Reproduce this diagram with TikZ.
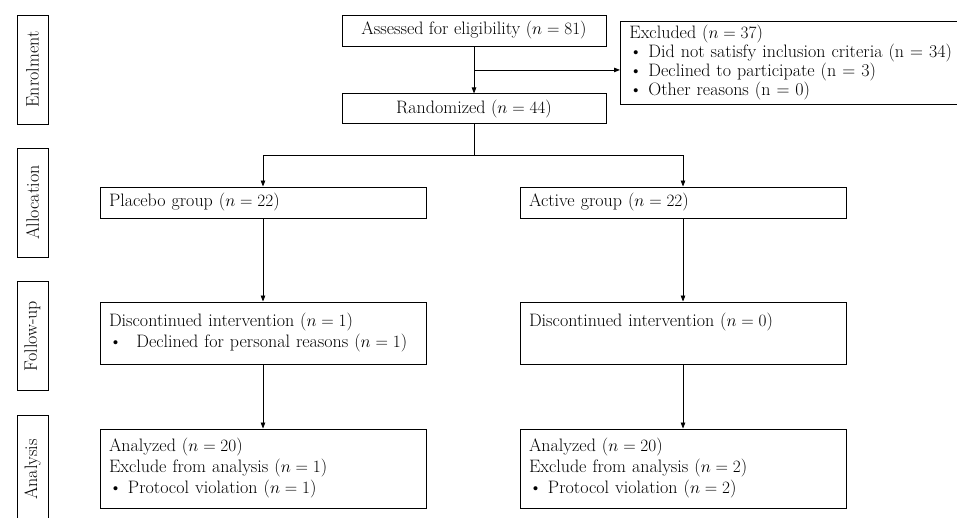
\documentclass[tikz,border=0pt]{standalone}
\usepackage{amsmath}
\usepackage{tikz}
\usetikzlibrary{arrows.meta, positioning, calc}

\begin{document}
\begin{tikzpicture}[x=1pt, y=-1pt, font=\fontsize{18}{21}\selectfont,
  box/.style={draw, line width=0.9pt, inner xsep=9pt, inner ysep=4pt},
  grp/.style={box, text width=308pt, align=left, minimum height=31pt},
  lbl/.style={draw, line width=0.9pt, rotate=90, minimum width=109pt,
              minimum height=31pt, inner sep=0pt},
  a/.style={-{Triangle[length=6pt, width=4.5pt]}, line width=0.8pt}]
\useasboundingbox (0,0) rectangle (957,518);
% stage labels on the left
\node[lbl] (enrol) at (32.5,69.5) {Enrolment};
\node[lbl] (alloc) at (32.5,202.5) {Allocation};
\node[lbl] (follow) at (32.5,336) {Follow-up};
\node[lbl] (anal) at (32.5,469.5) {Analysis};
% enrolment
\node[box, minimum width=264pt, minimum height=31pt] (assess) at (474,30.5)
  {Assessed for eligibility ($n = 81$)};
\node[box, minimum width=264pt, minimum height=30pt, below=47pt of assess] (rand)
  {Randomized ($n = 44$)};
\node[box, text width=345pt, align=left, anchor=west, minimum height=81pt,
  font=\fontsize{18}{17.5}\selectfont] (excl) at (620,62.5)
  {Excluded ($n = 37$)\\
   \textbullet\ Did not satisfy inclusion criteria (n = 34)\\
   \textbullet\ Declined to participate (n = 3)\\
   \textbullet\ Other reasons (n = 0)};
% allocation
\node[grp] (plac) at (263,202.5) {Placebo group ($n = 22$)};
\node[grp] (act) at (683,202.5) {Active group ($n = 22$)};
% follow-up
\node[grp, minimum height=62pt] (fu1) at (263,333)
  {Discontinued intervention ($n = 1$)\\
   \textbullet\hspace{0.8em}Declined for personal reasons ($n = 1$)};
\node[grp, minimum height=62pt] (fu2) at (683,333)
  {Discontinued intervention ($n = 0$)\\ \strut};
% analysis
\node[grp, minimum height=79pt] (an1) at (263,468.5)
  {Analyzed ($n = 20$)\\
   Exclude from analysis ($n = 1$)\\
   \textbullet\ Protocol violation ($n = 1$)};
\node[grp, minimum height=79pt] (an2) at (683,468.5)
  {Analyzed ($n = 20$)\\
   Exclude from analysis ($n = 2$)\\
   \textbullet\ Protocol violation ($n = 2$)};
% connectors
\coordinate (split) at ($(assess.south)!0.5!(rand.north)$);
\draw[a] (assess) -- (rand);
\draw[a] (split) -- (split -| excl.west);
\coordinate (fork) at (474,155);
\draw[line width=0.8pt] (rand) -- (fork);
\draw[a] (fork) -| (plac);
\draw[a] (fork) -| (act);
\draw[a] (plac) -- (fu1);
\draw[a] (act) -- (fu2);
\draw[a] (fu1) -- (an1);
\draw[a] (fu2) -- (an2);
\end{tikzpicture}
\end{document}
